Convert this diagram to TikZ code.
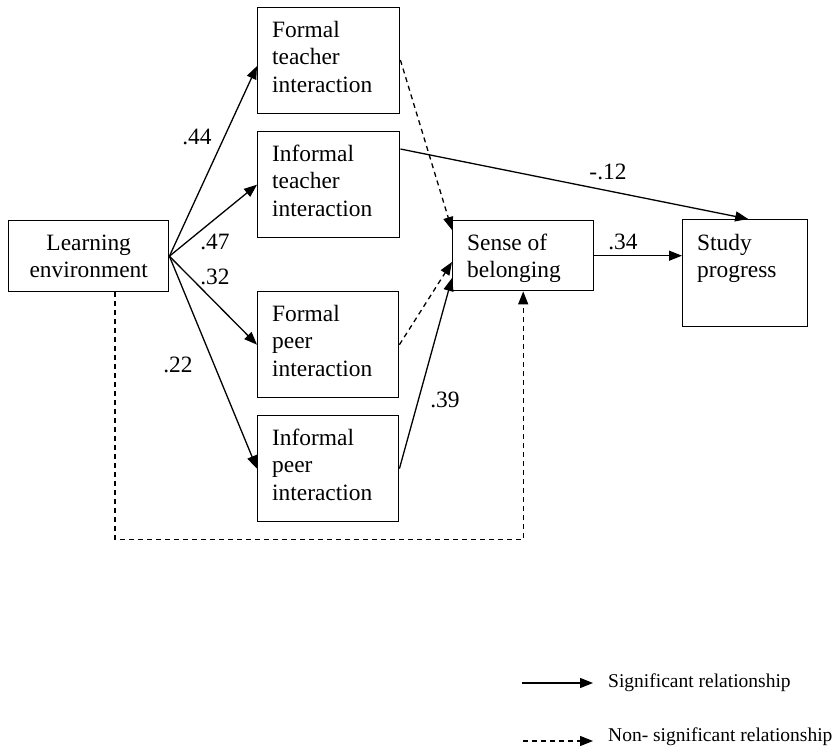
\documentclass[tikz,border=0pt]{standalone}
\usepackage{fontspec}
\setmainfont{Liberation Serif}
\usetikzlibrary{arrows.meta,calc}
\begin{document}
\begin{tikzpicture}[x=1pt,y=-1pt,
  box/.style={draw,line width=1.4pt,inner sep=0pt,anchor=north west},
  txt/.style={inner sep=0pt,anchor=base west,align=left,font=\fontsize{23.4}{27.5}\selectfont},
  lbl/.style={inner sep=0pt,font=\fontsize{23.4}{27.5}\selectfont},
  leg/.style={inner sep=0pt,anchor=west,font=\fontsize{19.5}{23}\selectfont},
  sig/.style={line width=1.3pt,-{Triangle[length=13pt,width=10pt]}},
  nsig/.style={sig,dash pattern=on 5pt off 4pt}]
\useasboundingbox (0,0) rectangle (836,747);
% boxes
\node[box,minimum width=160pt,minimum height=71pt] (le) at (8,220) {};
\node[lbl,align=center] at ($(le.center)+(0,0)$) {Learning\\environment};
\node[box,minimum width=142pt,minimum height=106pt] (fti) at (257,7) {};
\node[txt] at ($(fti.north west)+(15,85)$) {Formal\\teacher\\interaction};
\node[box,minimum width=142pt,minimum height=106pt] (iti) at (257,131) {};
\node[txt] at ($(iti.north west)+(15,85)$) {Informal\\teacher\\interaction};
\node[box,minimum width=141pt,minimum height=106pt] (fpi) at (257,291) {};
\node[txt] at ($(fpi.north west)+(15,85)$) {Formal\\peer\\interaction};
\node[box,minimum width=141pt,minimum height=106pt] (ipi) at (257,415) {};
\node[txt] at ($(ipi.north west)+(15,85)$) {Informal\\peer\\interaction};
\node[box,minimum width=141pt,minimum height=70pt] (sob) at (452,220) {};
\node[txt] at ($(sob.north west)+(15,57.5)$) {Sense of\\belonging};
\node[box,minimum width=125pt,minimum height=107pt] (sp) at (682,219) {};
\node[txt] at ($(sp.north west)+(15,58.5)$) {Study\\progress};
% connectors
\draw[sig] (le.east) -- ($(fti.north west)!0.55!(fti.south west)$);
\draw[sig] (le.east) -- (iti.west);
\draw[sig] (le.east) -- (fpi.west);
\draw[sig] (le.east) -- (ipi.west);
\draw[nsig] ($(fti.north east)+(0,53)$) -- ($(sob.north west)+(0,10)$);
\draw[nsig] (fpi.east) -- ($(sob.north west)+(0,42)$);
\draw[sig] (ipi.east) -- ($(sob.north west)+(0,58)$);
\draw[sig] ($(iti.north east)+(0,18)$) -- ($(sp.north)+(3,0)$);
\draw[sig] (sob.east) -- (sob.east -| sp.west);
\draw[nsig] ($(le.south west)+(107,0)$) |- ($(sob.south)+(0,248)$) -- (sob.south);
% labels
\node[lbl] at (197,137) {.44};
\node[lbl] at (215,242) {.47};
\node[lbl] at (215,277) {.32};
\node[lbl] at (178,365) {.22};
\node[lbl] at (445,400) {.39};
\node[lbl] at (623,242) {.34};
\node[lbl] at (608,172) {-.12};
% legend
\coordinate (s1) at (522,683);
\coordinate (s2) at (593,683);
\coordinate (n1) at (523,741);
\coordinate (n2) at (593,741);
\draw[sig] (s1) -- (s2);
\draw[nsig] (n1) -- (n2);
\node[leg] at (608,683) {Significant relationship};
\node[leg] at (608,737) {Non- significant relationship};
\end{tikzpicture}
\end{document}
